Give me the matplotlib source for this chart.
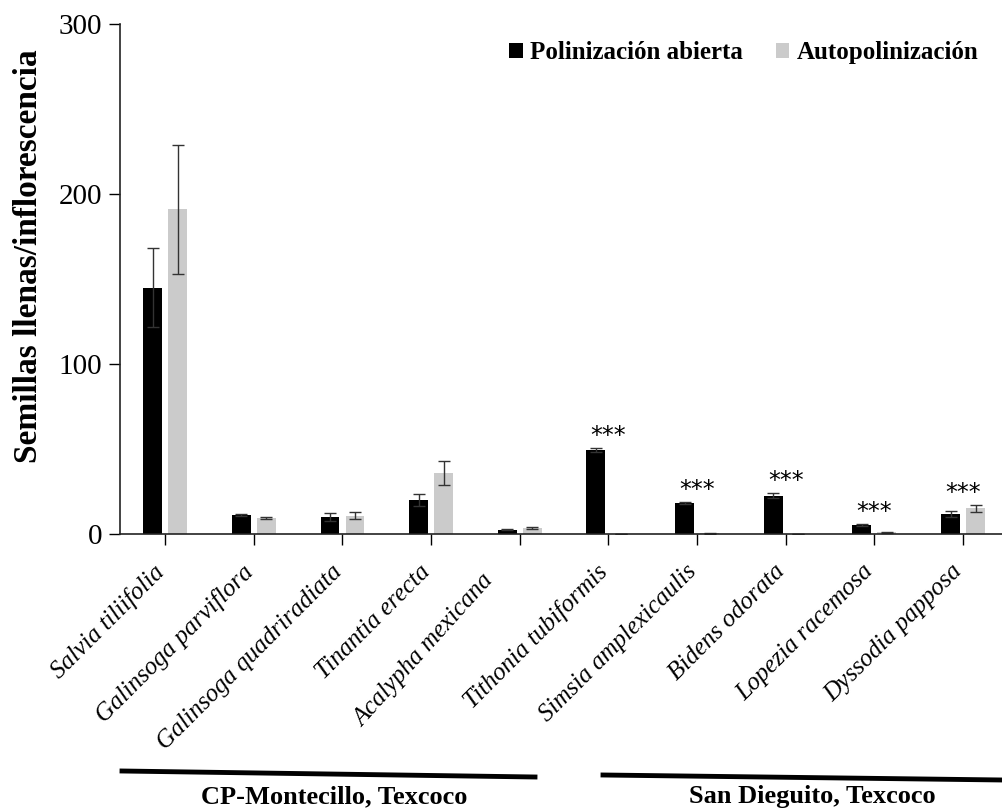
import numpy as np
import matplotlib
matplotlib.use("Agg")
import matplotlib.pyplot as plt
import matplotlib.transforms as mtransforms
from matplotlib.lines import Line2D

species = ["Salvia tiliifolia", "Galinsoga parviflora", "Galinsoga quadriradiata",
           "Tinantia erecta", "Acalypha mexicana", "Tithonia tubiformis",
           "Simsia amplexicaulis", "Bidens odorata", "Lopezia racemosa",
           "Dyssodia papposa"]
abierta = [145, 11, 10, 20, 2.4, 49.6, 18, 22.5, 5.5, 11.6]
abierta_err = [23, 0.5, 2.5, 3.3, 0.3, 1.2, 0.6, 1.5, 0.6, 1.8]
auto = [191, 9.6, 10.8, 36, 3.5, 0, 0.5, 0, 1, 15.1]
auto_err = [38, 0.5, 2, 7, 0.4, 0, 0.3, 0, 0.3, 2]
signif = ["", "", "", "", "", "***", "***", "***", "***", "***"]
groups = ["CP-Montecillo, Texcoco", "San Dieguito, Texcoco"]

plt.rcParams['font.family'] = ['Liberation Serif', 'DejaVu Serif']

fig = plt.figure(figsize=(10.03, 8.10), dpi=100)
ax = fig.add_axes([0.1196, 0.3407, 0.8804, 0.6296])

x = np.arange(len(species))
w = 0.214
off = 0.141
ekw = dict(ecolor="#333333", elinewidth=1, capsize=4, capthick=1)
ax.bar(x - off, abierta, w, color="black", label="Polinización abierta",
       yerr=abierta_err, error_kw=ekw)
ax.bar(x + off, auto, w, color="#cbcbcb", label="Autopolinización",
       yerr=auto_err, error_kw=ekw)

# asteriscos sobre cada especie
for i, s in enumerate(signif):
    if s:
        top = max(abierta[i] + abierta_err[i], auto[i] + auto_err[i])
        ax.annotate(s, (x[i], top), xytext=(0, 0), textcoords="offset points",
                    ha="center", va="bottom", fontsize=17, family="DejaVu Sans")

ax.set_xlim(-0.51, 9.45)
ax.set_ylim(0, 300)
ax.set_yticks([0, 100, 200, 300])
ax.tick_params(axis="y", labelsize=21, length=8, width=1, direction="out", pad=5)
ax.tick_params(axis="x", length=8, width=1, direction="out", pad=14)
ax.set_xticks(x)
ax.set_xticklabels(species, rotation=45, ha="right", rotation_mode="anchor",
                   fontsize=18, style="italic")
shift = mtransforms.ScaledTranslation(-0.12, 0.04, fig.dpi_scale_trans)
for k, lab in enumerate(ax.get_xticklabels()):
    if k == 4:
        # Acalypha aparece un poco desplazada en el original
        lab.set_rotation(48)
        lab.set_transform(lab.get_transform() + shift +
                          mtransforms.ScaledTranslation(-0.26, -0.1, fig.dpi_scale_trans))
    else:
        lab.set_transform(lab.get_transform() + shift)

ax.set_ylabel("Semillas llenas/inflorescencia", fontsize=24, fontweight="bold")
ax.yaxis.set_label_coords(-0.086, 0.545)
for sp in ["top", "right"]:
    ax.spines[sp].set_visible(False)
for sp in ["left", "bottom"]:
    ax.spines[sp].set_color("#222222")
    ax.spines[sp].set_linewidth(1.2)

leg = ax.legend(loc="upper right", bbox_to_anchor=(0.998, 1.01), ncol=2, frameon=False,
                prop={"weight": "bold", "size": 18}, handlelength=0.55, handleheight=0.55,
                handletextpad=0.3, columnspacing=1.3)

# barras de grupo bajo las etiquetas
fig.add_artist(Line2D([122 / 1003, 535 / 1003], [1 - 771 / 810, 1 - 777 / 810],
                      color="black", lw=3.5))
fig.add_artist(Line2D([603 / 1003, 1.0], [1 - 775 / 810, 1 - 780 / 810],
                      color="black", lw=3.5))
fig.text(334 / 1003, 1 - 797 / 810, groups[0], ha="center", va="center",
         fontsize=19, fontweight="bold")
fig.text(812 / 1003, 1 - 797 / 810, groups[1], ha="center", va="center",
         fontsize=19, fontweight="bold")

fig.savefig("out.png", dpi=100)
